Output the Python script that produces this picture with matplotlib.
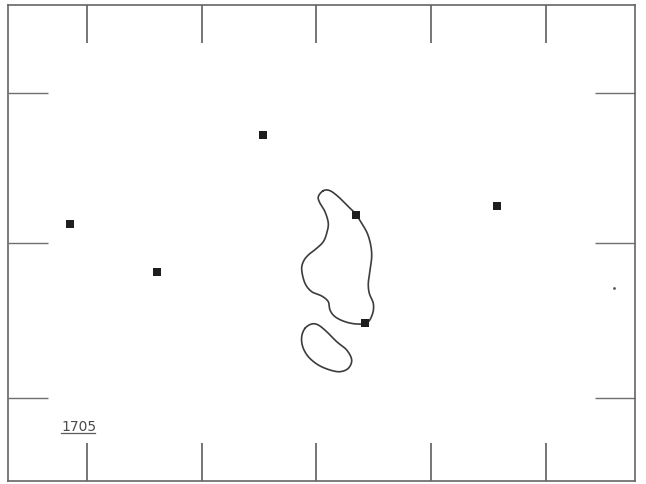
import numpy as np
import matplotlib
matplotlib.use("Agg")
import matplotlib.pyplot as plt

# Map grid: horizontal / vertical coordinate extents
x_range = (8, 635)
y_range = (481, 5)

x_ticks = [87, 202, 316, 431, 546]
y_ticks = [93, 243, 398]

# Station positions
station_x = [70, 157, 263, 356, 365, 497]
station_y = [224, 272, 135, 215, 323, 206]

# Minor mark
dot_x = [614]
dot_y = [288]

# Contour outlines (closed)
contour_a_x = [323.3, 330, 338.3, 346.7, 355, 361.7, 367.3, 370.7, 371.7, 370, 368.3,
               369.3, 373.3, 372.7, 367.3, 356.7, 345, 335, 330, 328.3, 321.7, 311.7,
               305, 301.7, 303.3, 308.3, 316.7, 323.3, 326.7, 328.3, 325, 320, 318.3]
contour_a_y = [190.7, 190.7, 196.7, 205, 213.3, 223.3, 233.3, 245, 256.7, 270, 283.3,
               293.3, 303.3, 313.3, 322.7, 324, 321.7, 316.7, 310, 301.7, 296, 291.7,
               283.3, 270, 261.7, 255, 248.3, 241.7, 233.3, 223.3, 211.7, 203.3, 196.7]

contour_b_x = [305, 311.7, 318.3, 326.7, 336.7, 346.7, 351.7, 348.3, 340, 330, 318.3,
               308.3, 302.7, 301.7]
contour_b_y = [328.3, 324, 325, 331.7, 341.7, 350, 360, 368.3, 371.7, 370, 365,
               356.7, 346.7, 336.7]

label = "1705"


def smooth_closed(xs, ys, n=12):
    """Closed Catmull-Rom curve through the given vertices."""
    p = np.column_stack([xs, ys])
    m = len(p)
    out = []
    t = np.linspace(0, 1, n, endpoint=False)[:, None]
    for i in range(m):
        p0, p1, p2, p3 = p[i - 1], p[i], p[(i + 1) % m], p[(i + 2) % m]
        seg = 0.5 * ((2 * p1) + (-p0 + p2) * t + (2 * p0 - 5 * p1 + 4 * p2 - p3) * t**2
                     + (-p0 + 3 * p1 - 3 * p2 + p3) * t**3)
        out.append(seg)
    out = np.vstack(out + [out[0][:1]])
    return out[:, 0], out[:, 1]


W, H = 646, 484
fig = plt.figure(figsize=(W / 100, H / 100), dpi=100)
ax = fig.add_axes([x_range[0] / W, 1 - y_range[0] / H,
                   (x_range[1] - x_range[0]) / W, (y_range[0] - y_range[1]) / H])
ax.set_xlim(*x_range)
ax.set_ylim(*y_range)

line_color = "#3c3c3c"
for s in ax.spines.values():
    s.set_color("#666666")
    s.set_linewidth(1.2)

ax.set_xticks(x_ticks)
ax.set_yticks(y_ticks)
ax.tick_params(axis="x", direction="in", length=27.5, width=1.1, color="#505050",
               top=True, bottom=True, labelbottom=False, labeltop=False)
ax.tick_params(axis="y", direction="in", length=28.5, width=1.0, color="#707070",
               left=True, right=True, labelleft=False, labelright=False)

for cx, cy in [(contour_a_x, contour_a_y), (contour_b_x, contour_b_y)]:
    sx, sy = smooth_closed(cx, cy)
    ax.plot(sx, sy, color=line_color, lw=1.2, solid_capstyle="round")

ax.plot(station_x, station_y, linestyle="none", marker="s", markersize=5.2,
        color="#1e1e1e", markeredgewidth=0)
ax.plot(dot_x, dot_y, linestyle="none", marker="o", markersize=2,
        color="#555555", markeredgewidth=0)

ax.text(61, 431, label, fontsize=10, color="#4a4a4a", ha="left", va="baseline",
        family="DejaVu Sans Condensed")
ax.plot([61, 95], [433, 433], color="#5a5a5a", lw=0.9)

fig.savefig("out.png", dpi=100, facecolor="white")
